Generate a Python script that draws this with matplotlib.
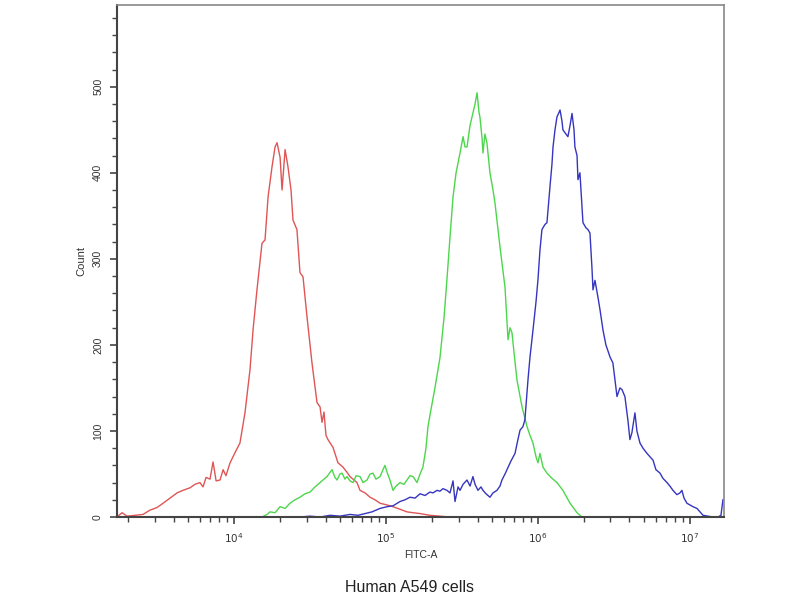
import matplotlib
matplotlib.use("Agg")
import matplotlib.pyplot as plt
import numpy as np
from matplotlib.ticker import LogLocator, NullFormatter, MultipleLocator, FixedLocator

plt.rcParams['font.family'] = ['Liberation Sans', 'DejaVu Sans']

# ---- data (x as log10 of FITC-A, y as Count) ----
red_log_fitc = [3.230, 3.263, 3.296, 3.349, 3.401, 3.447, 3.493, 3.533, 3.579, 3.625,
                3.664, 3.711, 3.743, 3.776, 3.796, 3.816, 3.842, 3.862, 3.882, 3.908,
                3.928, 3.947, 3.974, 4.007, 4.039, 4.072, 4.105, 4.125, 4.151, 4.184,
                4.204, 4.224, 4.250, 4.270, 4.283, 4.303, 4.316, 4.336, 4.355, 4.375,
                4.388, 4.414, 4.434, 4.454, 4.480, 4.513, 4.546, 4.566, 4.579, 4.592,
                4.605, 4.618, 4.651, 4.684, 4.717, 4.743, 4.763, 4.796, 4.809, 4.829,
                4.862, 4.895, 4.928, 4.961, 5.007, 5.046, 5.092, 5.138, 5.178, 5.224,
                5.289, 5.355, 5.421]
red_count = [0, 5, 1, 2, 3, 8, 11, 16, 22, 28,
             31, 34, 38, 40, 35, 46, 44, 64, 42, 43,
             55, 48, 63, 75, 86, 121, 171, 217, 264, 318,
             322, 372, 407, 430, 435, 418, 380, 427, 407, 380,
             345, 334, 284, 279, 233, 179, 133, 128, 110, 122,
             95, 90, 81, 63, 58, 52, 47, 42, 40, 31,
             28, 23, 20, 16, 14, 12, 9, 6, 5, 4,
             2, 1, 0]

green_log_fitc = [4.184, 4.217, 4.237, 4.270, 4.303, 4.336, 4.368, 4.401, 4.434, 4.467,
                  4.500, 4.533, 4.566, 4.592, 4.612, 4.632, 4.645, 4.664, 4.678, 4.697,
                  4.711, 4.730, 4.743, 4.763, 4.783, 4.803, 4.829, 4.849, 4.875, 4.895,
                  4.914, 4.934, 4.961, 4.980, 4.993, 5.007, 5.026, 5.046, 5.066, 5.092,
                  5.118, 5.138, 5.158, 5.178, 5.204, 5.224, 5.243, 5.263, 5.276, 5.296,
                  5.322, 5.355, 5.382, 5.401, 5.421, 5.441, 5.461, 5.487, 5.507, 5.520,
                  5.533, 5.553, 5.566, 5.586, 5.599, 5.612, 5.618, 5.632, 5.638, 5.651,
                  5.664, 5.684, 5.704, 5.717, 5.750, 5.783, 5.803, 5.816, 5.829, 5.849,
                  5.862, 5.895, 5.928, 5.947, 5.967, 5.987, 6.000, 6.013, 6.033, 6.059,
                  6.092, 6.125, 6.164, 6.211, 6.257, 6.289, 6.342]
green_count = [0, 3, 6, 5, 12, 10, 16, 20, 23, 27,
               29, 35, 40, 44, 47, 52, 55, 46, 43, 50,
               51, 44, 47, 42, 40, 48, 47, 40, 43, 50,
               51, 44, 47, 55, 60, 52, 43, 31, 36, 40,
               38, 43, 48, 47, 40, 50, 58, 80, 105, 125,
               150, 185, 232, 276, 325, 372, 400, 423, 442, 430,
               430, 455, 465, 480, 493, 470, 465, 440, 423, 445,
               435, 400, 380, 365, 314, 267, 206, 220, 214, 180,
               159, 128, 105, 95, 86, 70, 63, 74, 58, 51,
               45, 40, 31, 16, 5, 0, 0]

blue_log_fitc = [4.434, 4.500, 4.566, 4.632, 4.697, 4.763, 4.816, 4.862, 4.908, 4.961,
                 5.007, 5.046, 5.092, 5.125, 5.158, 5.191, 5.224, 5.257, 5.289, 5.309,
                 5.336, 5.355, 5.375, 5.401, 5.421, 5.441, 5.454, 5.474, 5.487, 5.507,
                 5.533, 5.553, 5.572, 5.586, 5.605, 5.625, 5.638, 5.658, 5.684, 5.704,
                 5.730, 5.750, 5.763, 5.783, 5.796, 5.822, 5.849, 5.868, 5.882, 5.901,
                 5.914, 5.934, 5.947, 5.967, 5.987, 6.000, 6.013, 6.026, 6.046, 6.059,
                 6.079, 6.092, 6.099, 6.112, 6.125, 6.138, 6.145, 6.158, 6.164, 6.184,
                 6.197, 6.211, 6.224, 6.237, 6.243, 6.257, 6.263, 6.276, 6.296, 6.316,
                 6.329, 6.342, 6.355, 6.362, 6.375, 6.395, 6.408, 6.428, 6.447, 6.474,
                 6.493, 6.520, 6.539, 6.553, 6.572, 6.592, 6.605, 6.618, 6.638, 6.651,
                 6.671, 6.691, 6.717, 6.737, 6.757, 6.776, 6.803, 6.822, 6.849, 6.868,
                 6.888, 6.914, 6.934, 6.947, 6.961, 6.980, 7.000, 7.020, 7.046, 7.066,
                 7.086, 7.118, 7.151, 7.184, 7.204, 7.217]
blue_count = [0, 1, 0, 2, 1, 3, 2, 4, 6, 10,
              12, 13, 18, 20, 23, 22, 27, 25, 29, 28,
              31, 30, 33, 31, 28, 42, 18, 35, 31, 38,
              43, 36, 47, 38, 31, 35, 31, 27, 23, 28,
              31, 36, 43, 50, 55, 65, 74, 90, 101, 105,
              113, 159, 185, 217, 250, 276, 310, 334, 340, 342,
              384, 410, 430, 450, 465, 470, 473, 460, 450, 445,
              442, 455, 469, 450, 430, 420, 392, 400, 342, 336,
              334, 330, 290, 264, 275, 255, 241, 217, 200, 186,
              179, 140, 150, 148, 140, 112, 90, 98, 121, 100,
              86, 80, 74, 70, 66, 55, 51, 45, 40, 36,
              31, 26, 28, 31, 22, 16, 14, 12, 10, 6,
              2, 1, 0, 0, 2, 20]

x_major_ticks = [1e4, 1e5, 1e6, 1e7]
x_tick_labels = [r'$10^{4}$', r'$10^{5}$', r'$10^{6}$', r'$10^{7}$']
y_major_ticks = [0, 100, 200, 300, 400, 500]
y_tick_labels = ['0', '100', '200', '300', '400', '500']

fig = plt.figure(figsize=(8, 6), dpi=100)
ax = fig.add_axes([0.14625, 0.1383, 0.75875, 0.8534])

ax.plot(10 ** np.array(red_log_fitc), red_count, color='#e05555', lw=1.0)
ax.plot(10 ** np.array(green_log_fitc), green_count, color='#4cd64c', lw=1.0)
ax.plot(10 ** np.array(blue_log_fitc), blue_count, color='#3535c0', lw=1.0)

ax.set_xscale('log')
ax.set_xlim(10 ** 3.23, 10 ** 7.224)
ax.set_ylim(0, 595)

ax.xaxis.set_major_locator(FixedLocator(x_major_ticks))
ax.set_xticklabels(x_tick_labels, fontsize=7.5, color='#333333')
ax.xaxis.set_minor_locator(LogLocator(base=10, subs=np.arange(2, 10), numticks=20))
ax.xaxis.set_minor_formatter(NullFormatter())

ax.set_yticks(y_major_ticks)
ax.set_yticklabels(y_tick_labels, fontsize=7.5, color='#333333', rotation=90, va='center')
ax.yaxis.set_minor_locator(MultipleLocator(20))

ax.tick_params(axis='both', which='major', direction='out', length=5, width=1.2, color='#444444')
ax.tick_params(axis='both', which='minor', direction='out', length=3.5, width=1.0, color='#444444')
ax.tick_params(axis='x', pad=5)
ax.tick_params(axis='y', pad=5)

for side in ['left', 'bottom']:
    ax.spines[side].set_color('#444444')
    ax.spines[side].set_linewidth(1.5)
for side in ['top', 'right']:
    ax.spines[side].set_color('#888888')
    ax.spines[side].set_linewidth(1.2)

ax.set_xlabel('FITC-A', fontsize=7.5, color='#333333', labelpad=4)
ax.set_ylabel('Count', fontsize=8, color='#333333', labelpad=5)

fig.text(410 / 800, 1 - 588 / 600, 'Human A549 cells', fontsize=11.5, color='#222222',
         ha='center', va='center')

fig.savefig('out.png', dpi=100)
